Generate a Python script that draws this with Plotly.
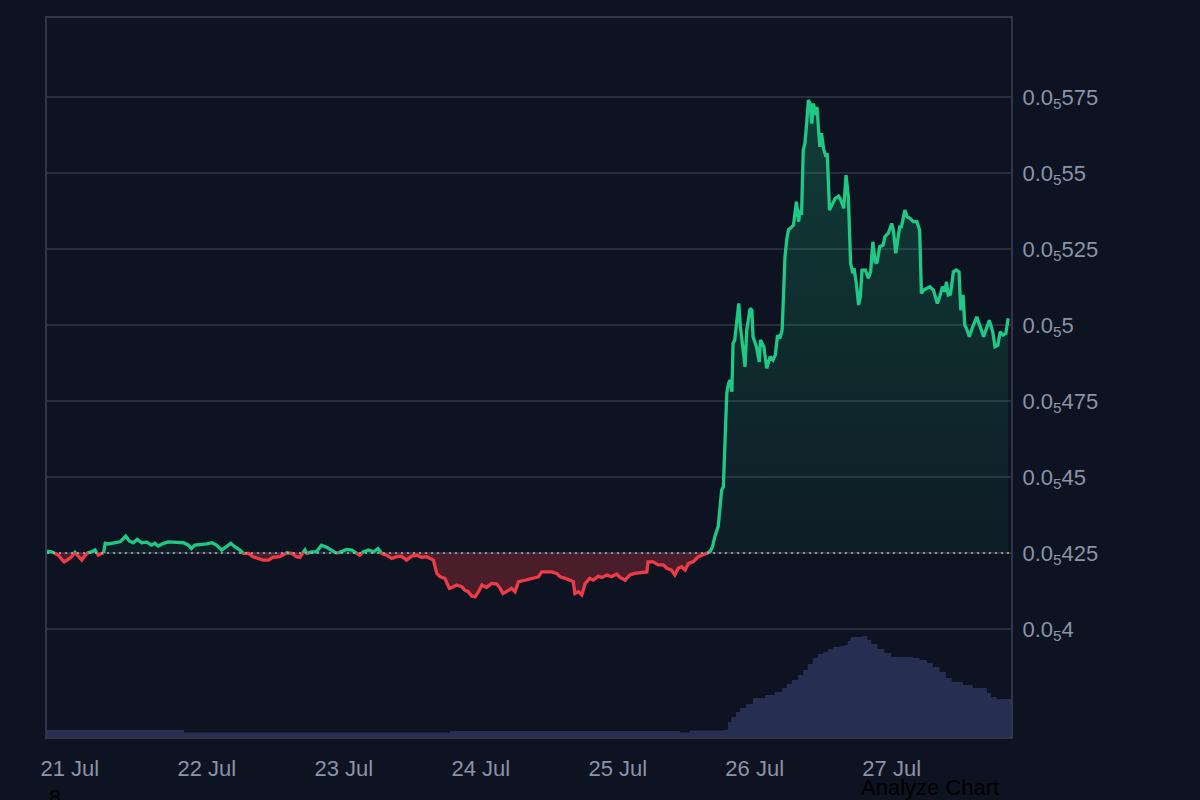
import numpy as np
import pandas as pd
import plotly.graph_objects as go

# price in units of 1e-6, time in hours after 20 Jul 20:00
start = pd.Timestamp("2024-07-20 20:00")
baseline = 4.25

hours = [0.0, 0.8, 1.4, 2.0, 2.6, 3.0, 3.7, 4.3, 4.9, 5.5, 6.1, 6.7, 7.2, 7.8, 8.4, 9.0, 9.6, 9.9,
         10.2, 10.7, 11.3, 12.2, 12.8, 13.4, 13.8, 14.4, 15.1, 15.8, 16.6, 17.5, 18.3, 18.9, 19.5,
         20.4, 21.3, 22.1, 23.0, 23.9, 24.8, 25.3, 25.9, 26.8, 28.0, 28.9, 29.7, 30.6, 31.5, 32.2,
         32.9, 33.8, 34.4, 35.3, 36.1, 37.0, 37.9, 38.8, 39.6, 40.8, 42.0, 42.9, 43.7, 44.3, 45.2,
         45.5, 46.4, 47.2, 48.1, 49.0, 49.9, 50.8, 51.6, 52.5, 53.4, 54.3, 54.8, 55.4, 56.3, 57.2,
         58.0, 58.6, 59.5, 60.4, 61.3, 62.1, 63.0, 63.9, 64.8, 65.6, 66.5, 67.4, 67.7, 68.3, 68.9,
         69.7, 70.5, 71.2, 71.8, 72.7, 73.2, 73.8, 74.4, 75.0, 75.6, 76.2, 77.0, 77.9, 78.8, 79.4,
         79.9, 80.5, 81.4, 82.0, 82.6, 83.4, 84.3, 85.2, 86.1, 86.7, 87.5, 88.4, 89.3, 89.9, 90.8,
         91.6, 92.2, 92.5, 93.1, 93.7, 94.3, 95.1, 95.7, 96.6, 97.2, 98.1, 98.9, 99.8, 100.4, 101.3,
         102.1, 103.0, 104.2, 105.1, 105.3, 106.2, 107.1, 108.0, 108.6, 109.4, 110.0, 110.6, 111.2,
         111.8, 112.4, 113.2, 114.1, 115.0, 115.6, 116.2, 116.6, 117.0, 117.6, 117.9, 118.2, 118.5,
         118.8, 119.1, 119.4, 119.7, 120.0, 120.2, 120.5, 120.8, 121.2, 121.5, 121.9, 122.3, 122.6,
         123.2, 123.5, 123.7, 124.3, 124.8, 125.0, 125.6, 126.1, 126.7, 127.2, 127.6, 128.0, 128.4,
         128.8, 129.1, 129.3, 129.6, 129.9, 130.5, 130.8, 131.3, 131.7, 131.9, 132.2, 132.5, 132.8,
         133.1, 133.4, 133.7, 134.0, 134.3, 134.6, 134.9, 135.1, 135.4, 135.7, 136.1, 136.5, 136.7,
         137.1, 137.5, 138.1, 138.7, 139.1, 139.6, 140.0, 140.4, 140.8, 141.2, 141.4, 141.8, 142.2,
         142.5, 142.8, 143.4, 143.9, 144.3, 144.7, 145.1, 145.4, 145.9, 146.5, 146.8, 147.4, 148.0,
         148.3, 148.7, 149.1, 149.4, 149.7, 150.3, 150.7, 151.2, 151.8, 152.4, 152.9, 153.2, 153.6,
         154.1, 154.7, 155.3, 156.0, 156.4, 156.9, 157.3, 157.6, 157.9, 158.3, 158.8, 159.3, 159.8,
         160.1, 160.5, 160.8, 161.1, 161.6, 162.2, 162.9, 163.5, 164.1, 164.5, 165.1, 165.7, 166.1,
         166.6, 167.0, 167.5, 168.0, 168.4]
price_e6 = [4.256, 4.254, 4.249, 4.243, 4.229, 4.221, 4.229, 4.238, 4.252, 4.238, 4.227, 4.243, 4.251,
            4.254, 4.260, 4.243, 4.249, 4.249, 4.282, 4.280, 4.282, 4.284, 4.287, 4.298, 4.306, 4.290,
            4.284, 4.295, 4.284, 4.286, 4.276, 4.282, 4.273, 4.282, 4.287, 4.286, 4.286, 4.284, 4.276,
            4.265, 4.276, 4.277, 4.280, 4.284, 4.276, 4.260, 4.271, 4.282, 4.271, 4.260, 4.249, 4.249,
            4.238, 4.232, 4.227, 4.227, 4.236, 4.238, 4.251, 4.249, 4.238, 4.236, 4.260, 4.249, 4.254,
            4.254, 4.276, 4.269, 4.258, 4.249, 4.254, 4.262, 4.260, 4.249, 4.243, 4.254, 4.260, 4.254,
            4.265, 4.249, 4.243, 4.232, 4.238, 4.240, 4.227, 4.240, 4.243, 4.236, 4.238, 4.229, 4.227,
            4.183, 4.172, 4.167, 4.134, 4.139, 4.145, 4.139, 4.128, 4.123, 4.109, 4.106, 4.123, 4.145,
            4.137, 4.150, 4.148, 4.134, 4.117, 4.123, 4.134, 4.123, 4.156, 4.159, 4.163, 4.167, 4.172,
            4.188, 4.188, 4.188, 4.183, 4.172, 4.167, 4.161, 4.156, 4.117, 4.123, 4.112, 4.150, 4.167,
            4.161, 4.174, 4.170, 4.178, 4.172, 4.181, 4.170, 4.161, 4.178, 4.183, 4.185, 4.188, 4.221,
            4.221, 4.211, 4.211, 4.200, 4.194, 4.178, 4.200, 4.205, 4.194, 4.216, 4.221, 4.238, 4.243,
            4.249, 4.256, 4.271, 4.304, 4.337, 4.391, 4.457, 4.468, 4.645, 4.775, 4.808, 4.819, 4.781,
            4.940, 4.951, 4.994, 5.071, 4.994, 4.929, 4.863, 4.984, 5.055, 5.049, 4.962, 4.929, 4.879,
            4.951, 4.929, 4.858, 4.896, 4.885, 4.901, 4.967, 4.956, 4.984, 5.148, 5.225, 5.280, 5.313,
            5.323, 5.329, 5.406, 5.340, 5.378, 5.362, 5.576, 5.598, 5.663, 5.740, 5.729, 5.663, 5.729,
            5.691, 5.718, 5.652, 5.586, 5.631, 5.576, 5.554, 5.565, 5.378, 5.395, 5.417, 5.424, 5.411,
            5.384, 5.493, 5.422, 5.203, 5.170, 5.187, 5.137, 5.066, 5.093, 5.181, 5.181, 5.154, 5.175,
            5.274, 5.208, 5.203, 5.258, 5.263, 5.290, 5.302, 5.334, 5.312, 5.236, 5.290, 5.323, 5.323,
            5.378, 5.356, 5.351, 5.340, 5.340, 5.312, 5.104, 5.115, 5.121, 5.126, 5.115, 5.071, 5.093,
            5.126, 5.110, 5.142, 5.099, 5.102, 5.175, 5.181, 5.175, 5.049, 5.099, 5.000, 4.989, 4.962,
            4.995, 5.027, 4.995, 4.962, 4.984, 5.016, 4.978, 4.929, 4.934, 4.978, 4.967, 4.973, 5.022]

# volume (K), step values starting at each hour offset
vol_hours = [0.0, 24.0, 70.6, 110.9, 112.6, 118.4, 119.3, 119.9, 120.7, 121.4, 122.5, 123.7, 125.8,
             127.5, 128.8, 129.6, 130.5, 131.6, 132.5, 133.3, 134.2, 135.1, 136.0, 136.8, 137.7,
             138.9, 139.8, 140.3, 140.8, 142.9, 143.7, 144.4, 145.5, 146.7, 147.9, 151.7, 152.9,
             154.2, 155.2, 156.4, 157.5, 158.5, 160.5, 162.2, 164.0, 164.7, 165.4, 166.4, 168.9]
vol_k = [7, 4.5, 6, 4.5, 6.5, 7, 15, 20, 25, 29, 33, 39, 42, 45, 49, 53, 57, 62, 67, 73, 79, 83, 85,
         88, 90, 91, 92, 96, 100, 101, 97, 93, 88, 84, 80, 79, 77, 74, 70, 65, 59, 55, 52, 49, 49,
         44, 40, 38, 37]

tick_vals = [4.0, 4.25, 4.5, 4.75, 5.0, 5.25, 5.5, 5.75]
tick_text = ["0.0<sub>5</sub>4", "0.0<sub>5</sub>425", "0.0<sub>5</sub>45", "0.0<sub>5</sub>475",
             "0.0<sub>5</sub>5", "0.0<sub>5</sub>525", "0.0<sub>5</sub>55", "0.0<sub>5</sub>575"]
date_ticks = ["2024-07-21", "2024-07-22", "2024-07-23", "2024-07-24", "2024-07-25", "2024-07-26", "2024-07-27"]
date_text = ["21 Jul", "22 Jul", "23 Jul", "24 Jul", "25 Jul", "26 Jul", "27 Jul"]

GREEN = "#1fc985"
RED = "#ef3b47"
BG = "#0d1321"

# split the line where it crosses the baseline
t = np.array(hours)
p = np.array(price_e6)
xs, ys = [t[0]], [p[0]]
for i in range(1, len(t)):
    a, b = p[i - 1] - baseline, p[i] - baseline
    if a * b < 0:
        f = a / (a - b)
        xs.append(t[i - 1] + f * (t[i] - t[i - 1]))
        ys.append(baseline)
    xs.append(t[i])
    ys.append(p[i])
xs = np.array(xs)
ys = np.array(ys)
x_dt = start + pd.to_timedelta(xs, unit="h")
up_line = np.where(ys >= baseline, ys, np.nan)
dn_line = np.where(ys <= baseline, ys, np.nan)
base_arr = np.full(len(xs), baseline)

fig = go.Figure()

fig.add_trace(go.Scatter(x=start + pd.to_timedelta(vol_hours, unit="h"), y=vol_k, yaxis="y2",
                         mode="lines", line=dict(width=0, shape="hv"), fill="tozeroy",
                         fillcolor="#262f52", hoverinfo="skip"))

fig.add_trace(go.Scatter(x=x_dt, y=base_arr, mode="lines", line=dict(width=0), hoverinfo="skip"))
fig.add_trace(go.Scatter(x=x_dt, y=np.maximum(ys, baseline), mode="lines", line=dict(width=0),
                         fill="tonexty",
                         fillgradient=dict(type="vertical", start=baseline, stop=5.74,
                                           colorscale=[[0, "rgba(31,201,133,0.05)"],
                                                       [1, "rgba(31,201,133,0.23)"]]),
                         hoverinfo="skip"))
fig.add_trace(go.Scatter(x=x_dt, y=base_arr, mode="lines", line=dict(width=0), hoverinfo="skip"))
fig.add_trace(go.Scatter(x=x_dt, y=np.minimum(ys, baseline), mode="lines", line=dict(width=0),
                         fill="tonexty", fillcolor="rgba(239,59,71,0.27)", hoverinfo="skip"))

fig.add_trace(go.Scatter(x=x_dt, y=up_line, mode="lines", line=dict(color=GREEN, width=3.3),
                         connectgaps=False))
fig.add_trace(go.Scatter(x=x_dt, y=dn_line, mode="lines", line=dict(color=RED, width=3.3),
                         connectgaps=False))

fig.add_shape(type="line", xref="paper", x0=0, x1=1, yref="y", y0=baseline, y1=baseline,
              line=dict(color="#aeb3bd", width=1.5, dash="2px,4px"))

font = dict(family="Liberation Sans, Arial, sans-serif", size=22, color="#8b93a7")

fig.update_layout(
    width=1200, height=800,
    margin=dict(l=47, r=189, t=18, b=63),
    paper_bgcolor=BG, plot_bgcolor=BG,
    showlegend=False, hovermode=False,
    font=font,
    xaxis=dict(range=[start, start + pd.Timedelta(hours=168.9)], tickvals=date_ticks, ticktext=date_text,
               showgrid=False, zeroline=False, showline=True, mirror=True, linecolor="#30364a",
               linewidth=2, ticks="outside", ticklen=11, tickcolor="rgba(0,0,0,0)", tickfont=font),
    yaxis=dict(range=[3.645, 6.010], side="right", tickvals=tick_vals, ticktext=tick_text,
               showgrid=True, gridcolor="#272d3b", gridwidth=1.5, zeroline=False, showline=True,
               mirror=True, linecolor="#30364a", linewidth=2, ticks="outside", ticklen=5,
               tickcolor="rgba(0,0,0,0)", tickfont=font),
    yaxis2=dict(overlaying="y", range=[0, 719], visible=False),
)

fig.add_annotation(text="Analyze Chart", xref="paper", yref="paper", x=0.916, y=-0.050,
                   xanchor="center", yanchor="top", showarrow=False,
                   font=dict(family="Liberation Sans, Arial, sans-serif", size=22, color="#000000"))
fig.add_annotation(text="8", xref="paper", yref="paper", x=0.008, y=-0.064,
                   xanchor="center", yanchor="top", showarrow=False,
                   font=dict(family="Liberation Sans, Arial, sans-serif", size=22, color="#000000"))

# page margin off so the figure fills the window
fig.write_html("out.html", config={"displayModeBar": False},
               post_script="document.body.style.margin='0';")
